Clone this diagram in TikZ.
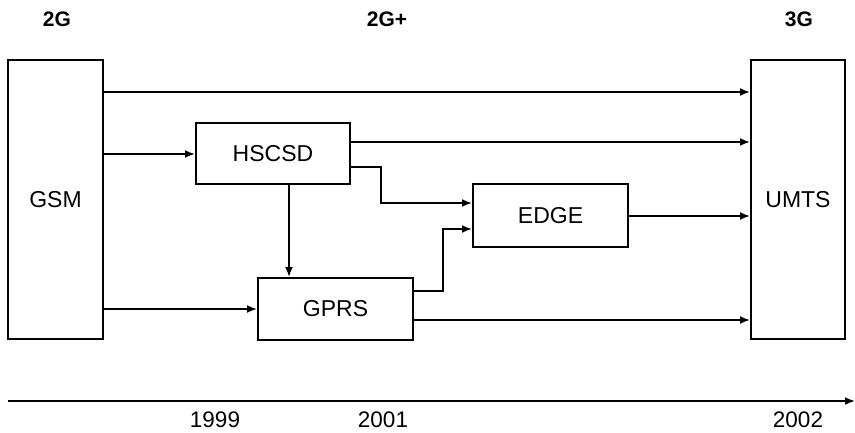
\documentclass[tikz,border=0pt]{standalone}
\usepackage{fontspec}
\setmainfont{Liberation Sans}
\usetikzlibrary{arrows.meta}
\begin{document}
\begin{tikzpicture}[x=1pt,y=-1pt,
  box/.style={draw, line width=2pt, inner sep=0pt, font=\fontsize{23}{27}\selectfont},
  conn/.style={-{Latex[length=10pt,width=8pt]}, line width=1.8pt},
  lbl/.style={font=\fontsize{21}{25}\selectfont\bfseries},
  yr/.style={font=\fontsize{22.5}{26}\selectfont}]
\useasboundingbox (0,0) rectangle (855,433);
% boxes
\node[box, minimum width=95pt, minimum height=279pt] (gsm) at (55.5,199.5) {GSM};
\node[box, minimum width=94pt, minimum height=279pt] (umts) at (798,199.5) {UMTS};
\node[box, minimum width=154pt, minimum height=61pt] (hscsd) at (273,154) {HSCSD};
\node[box, minimum width=155pt, minimum height=62pt] (gprs) at (335.5,309) {GPRS};
\node[box, minimum width=155pt, minimum height=63pt] (edge) at (550.5,216) {EDGE};
% helper coordinates
\coordinate (r1) at (0,92);
\coordinate (r2) at (0,142);
\coordinate (r3) at (0,167);
\coordinate (r4) at (0,203);
\coordinate (r5) at (0,291);
\coordinate (r6) at (0,229);
\coordinate (r7) at (0,320);
\coordinate (c1) at (381,0);
\coordinate (c2) at (443,0);
\coordinate (c3) at (289,0);
% connectors
\draw[conn] (gsm.east |- r1) -- (umts.west |- r1);
\draw[conn] (gsm.east |- hscsd.west) -- (hscsd.west);
\draw[conn] (hscsd.east |- r2) -- (umts.west |- r2);
\draw[conn] (hscsd.east |- r3) -| (c1 |- r4) -- (edge.west |- r4);
\draw[conn] (hscsd.south -| c3) -- (gprs.north -| c3);
\draw[conn] (gsm.east |- gprs.west) -- (gprs.west);
\draw[conn] (gprs.east |- r5) -| (c2 |- r6) -- (edge.west |- r6);
\draw[conn] (edge.east) -- (umts.west |- edge.east);
\draw[conn] (gprs.east |- r7) -- (umts.west |- r7);
% timeline
\coordinate (t0) at (8,401);
\coordinate (t1) at (855,401);
\draw[conn] (t0) -- (t1);
% labels
\node[lbl] (l2g) at (57,19) {2G};
\node[lbl] (l2gp) at (387,19) {2G+};
\node[lbl] (l3g) at (799,19) {3G};
\node[yr] (y1999) at (215,420) {1999};
\node[yr] (y2001) at (383,420) {2001};
\node[yr] (y2002) at (798,420) {2002};
\end{tikzpicture}
\end{document}
